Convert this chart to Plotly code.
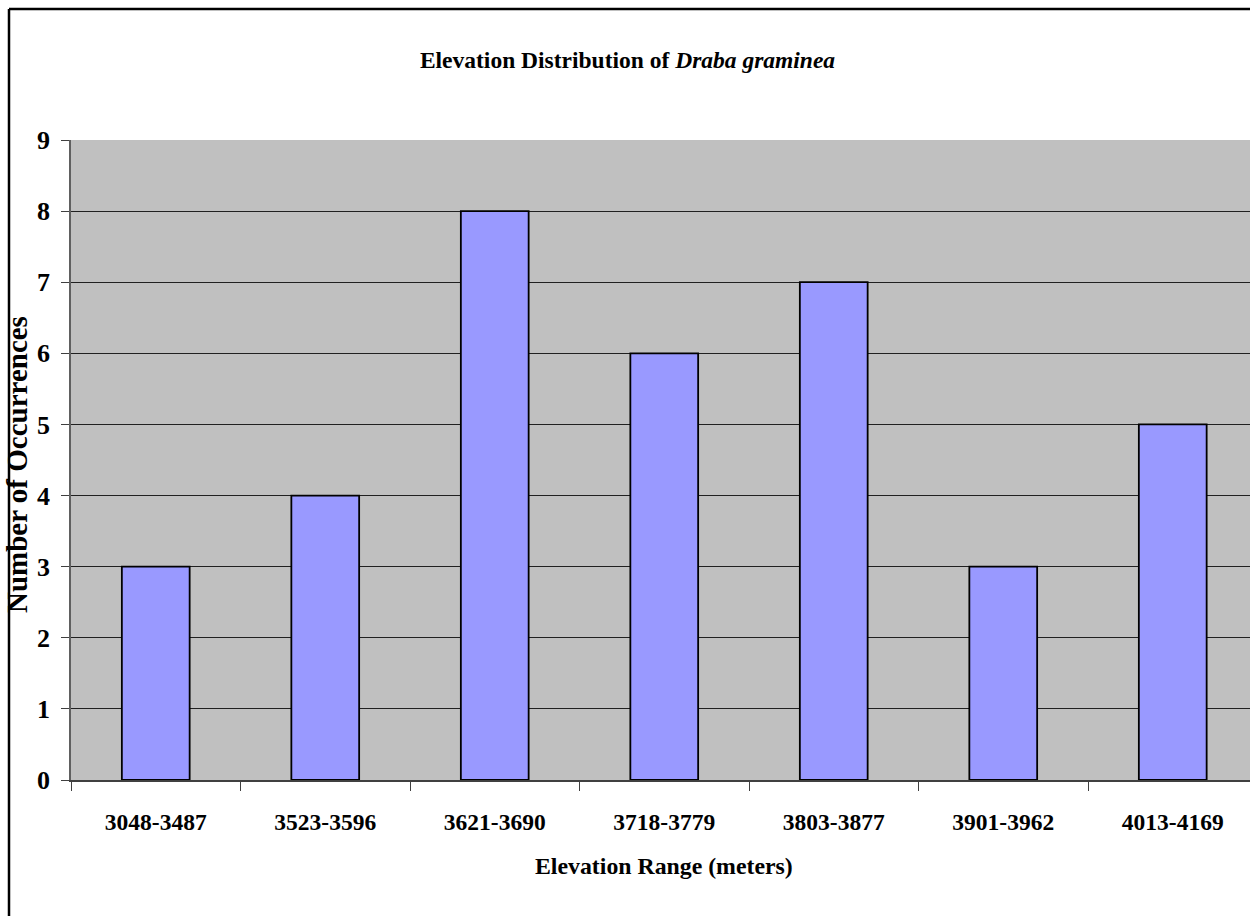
import plotly.graph_objects as go

# Elevation bins (m) and count of occurrences in each
elevation_ranges = ["3048-3487", "3523-3596", "3621-3690", "3718-3779",
                    "3803-3877", "3901-3962", "4013-4169"]
occurrences = [3, 4, 8, 6, 7, 3, 5]
y_ticks = list(range(0, 10))

W, H = 1250, 916
L, T, B, R = 71, 140, 136, 0
FONT = "Liberation Serif, Times New Roman, serif"

fig = go.Figure(
    go.Bar(
        x=elevation_ranges,
        y=occurrences,
        width=0.4,
        marker=dict(color="#9999FF", line=dict(color="black", width=1.8)),
        hoverinfo="x+y",
    )
)

# one category spans ~169.5 px; plot area runs to the right edge
cat_px = 169.5
plot_w = W - L - R
x_max = -0.5 + plot_w / cat_px

fig.update_layout(
    width=W,
    height=H,
    margin=dict(l=L, r=R, t=T, b=B, pad=0),
    paper_bgcolor="white",
    plot_bgcolor="#C0C0C0",
    showlegend=False,
    font=dict(family=FONT, color="black", size=22),
    title=dict(
        text="<b>Elevation Distribution of <i>Draba graminea</i></b>",
        x=0.502, xanchor="center", y=1 - 60 / H, yanchor="middle",
        font=dict(family=FONT, size=23.5, color="black"),
    ),
    bargap=0.6,
)

fig.update_xaxes(
    range=[-0.5, x_max],
    tickson="boundaries",
    ticks="outside",
    ticklen=9,
    tickwidth=1,
    tickcolor="#404040",
    showline=True,
    linecolor="#404040",
    linewidth=1.5,
    showgrid=False,
    ticklabelstandoff=20,
    tickfont=dict(family=FONT, size=23.5, color="black", weight="bold"),
    fixedrange=True,
)

fig.update_yaxes(
    range=[0, 9],
    tickvals=y_ticks,
    ticks="outside",
    ticklen=8,
    tickwidth=1,
    tickcolor="#404040",
    showline=True,
    linecolor="#606060",
    linewidth=1.5,
    showgrid=True,
    gridcolor="#202020",
    gridwidth=1,
    zeroline=False,
    ticklabelstandoff=6,
    tickfont=dict(family=FONT, size=26, color="black", weight="bold"),
    fixedrange=True,
)

# chart border (left and top edges visible)
plot_h = H - T - B
bx0 = (9 - L) / plot_w
by1 = 1 + (T - 9) / plot_h
fig.add_shape(type="line", xref="paper", yref="paper",
              x0=bx0, x1=bx0, y0=-(H - T - plot_h) / plot_h - 0.05, y1=by1,
              line=dict(color="black", width=2.5))
fig.add_shape(type="line", xref="paper", yref="paper",
              x0=bx0, x1=1.05, y0=by1, y1=by1,
              line=dict(color="black", width=2.5))

# axis titles
fig.add_annotation(
    text="<b>Number of Occurrences</b>", textangle=-90,
    xref="paper", yref="paper",
    x=(17 - L) / plot_w, y=1 - (465 - T) / plot_h,
    xanchor="center", yanchor="middle", showarrow=False,
    font=dict(family=FONT, size=29, color="black"),
)
fig.add_annotation(
    text="<b>Elevation Range (meters)</b>",
    xref="paper", yref="paper",
    x=(664 - L) / plot_w, y=1 - (866 - T) / plot_h,
    xanchor="center", yanchor="middle", showarrow=False,
    font=dict(family=FONT, size=23.8, color="black"),
)

fig.write_html("out.html", config={"displayModeBar": False})
